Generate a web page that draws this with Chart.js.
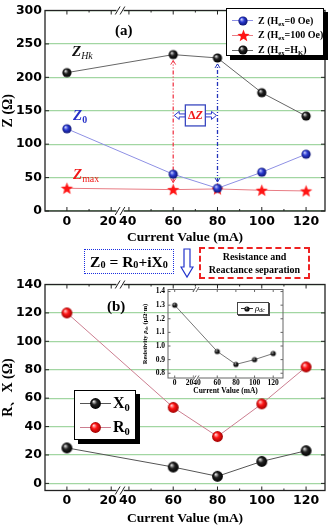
<!DOCTYPE html>
<html>
<head>
<meta charset="utf-8">
<script src="https://cdn.jsdelivr.net/npm/chart.js@4"></script>
<style>
  body { margin: 0; background: #fff; }
  #wrap { position: relative; width: 331px; height: 527px; overflow: hidden; background: #fff; font-family: 'Liberation Serif', serif; }
  canvas { position: absolute; }
  #top { left: 0px; top: 0px; }
  #bot { left: 0px; top: 274px; }
  #ins { left: 140px; top: 282px; }
  .t { position: absolute; white-space: nowrap; font-weight: bold; line-height: 1; }
  .t sub, .lrow sub, .box sub { font-size: 0.66em; position: relative; top: 0.32em; vertical-align: baseline; line-height: 0; }
  .legend { position: absolute; box-sizing: border-box; border: 1px solid #000; background: #fff; }
  .lrow { position: absolute; left: 0; height: 0; }
  .lrow i { position: absolute; top: -0.5px; height: 1px; }
  .lrow img { position: absolute; }
  .lrow span { position: absolute; top: 0; transform: translateY(-55%); white-space: nowrap; font-weight: bold; line-height: 1; }
  .box { position: absolute; box-sizing: border-box; display: flex; align-items: center; justify-content: center; text-align: center; font-weight: bold; }
</style>
</head>
<body>
<div id="wrap">
  <canvas id="top" width="331" height="246"></canvas>
  <canvas id="bot" width="331" height="253"></canvas>
  <canvas id="ins" width="150" height="116"></canvas>

  <div class="t" style="left:115px;top:23px;font-size:15px">(a)</div>
  <div class="t" style="left:107px;top:299px;font-size:15px">(b)</div>
  <div class="t" style="left:72px;top:44px;font-size:15px;font-style:italic;color:#111">Z<sub style="font-weight:normal">Hk</sub></div>
  <div class="t" style="left:73px;top:108px;font-size:15px;font-style:italic;color:#2630c8">Z<sub style="font-style:normal">0</sub></div>
  <div class="t" style="left:73px;top:167px;font-size:15px;font-style:italic;color:#f01818">Z<sub style="font-style:normal;font-weight:normal">max</sub></div>

  <div class="box" style="left:84px;top:249px;width:90px;height:25px;border:1.5px dotted #1a2ee0;font-size:15.5px">Z<sub>0</sub>&nbsp;=&nbsp;R<sub>0</sub>+iX<sub>0</sub></div>
  <svg style="position:absolute;left:180px;top:248px" width="14" height="31">
    <polygon points="4,1 10,1 10,19 13,19 7,29 1,19 4,19" fill="#fff" stroke="#2233cc" stroke-width="1.2"/>
  </svg>
  <div class="box" style="left:199px;top:247px;width:111px;height:32px;border:2px dashed #ee2222;font-size:10px;line-height:13px">Resistance and<br>Reactance separation</div>

  <div class="t" style="left:145px;top:334px;font-size:6.5px;transform:translate(-50%,-50%) rotate(-90deg)">Resistivity <i>&rho;</i><sub>dc</sub> (&mu;&Omega;&middot;m)</div>

  <div id="legTop" class="legend" style="left:226px;top:8px;width:98px;height:48px;box-shadow:4px 4px 0 #000"></div>
  <div id="legBot" class="legend" style="left:74px;top:390px;width:62px;height:50px;box-shadow:4px 4px 0 #000"></div>
  <div id="legIns" class="legend" style="left:237px;top:302px;width:32px;height:13px;border-color:#444;box-shadow:1px 1px 0 #444"></div>
</div>

<script>
// measured data (current in mA)
const currents = [0, 60, 80, 100, 120];
const zHk  = [207, 234, 229, 177, 142];
const z0   = [123, 55, 34, 58, 85];
const zMax = [34, 32, 33, 31, 30];
const r0 = [120, 53.5, 33, 56, 82];
const x0 = [25, 11.5, 5, 15.5, 23];
const rhoDc = [1.30, 0.96, 0.865, 0.90, 0.945];

// ticks (the 20 / 40 labels sit either side of the axis break)
const currentTicks = [0, 20, 40, 60, 80, 100, 120];
const currentLabels = ['0', '20\u2002', '40\u2009', '60', '80', '100', '120'];
const currentMinor = [10, 50, 70, 90, 110];
const zTicks = [0, 25, 50, 75, 100, 125, 150, 175, 200, 225, 250, 275, 300];
const rxTicks = [0, 10, 20, 30, 40, 50, 60, 70, 80, 90, 100, 110, 120, 130, 140];
const insetCurrentTicks = [0, 20, 60, 80, 100, 120];
const insetCurrentLabels = ['0', '2040', '60', '80', '100', '120'];
const rhoTicks = [0.8, 0.9, 1.0, 1.1, 1.2, 1.3, 1.4];

// broken x axis: everything from 40 mA on is pulled left
const squeeze = gap => v => (v >= 40 ? v - gap : v);
const toMain = squeeze(12);
const toInset = squeeze(14.4);

const SERIF = "'Liberation Serif', serif";
const SANS = "'DejaVu Sans', sans-serif";
const GREEN = '#a2d6a2';
const DOTS = '#8a9cc4';

function ball(r, light, mid, dark) {
  const c = document.createElement('canvas');
  const s = Math.ceil(2 * r + 2);
  c.width = c.height = s;
  const g = c.getContext('2d');
  const grad = g.createRadialGradient(s / 2 - r * 0.35, s / 2 - r * 0.4, r * 0.05, s / 2, s / 2, r);
  grad.addColorStop(0, light);
  grad.addColorStop(0.45, mid);
  grad.addColorStop(1, dark);
  g.fillStyle = grad;
  g.beginPath();
  g.arc(s / 2, s / 2, r, 0, Math.PI * 2);
  g.fill();
  return c;
}

function star(R, color) {
  const c = document.createElement('canvas');
  const s = Math.ceil(2 * R + 2);
  c.width = c.height = s;
  const g = c.getContext('2d');
  g.beginPath();
  for (let i = 0; i < 10; i++) {
    const rr = i % 2 ? R * 0.42 : R;
    const a = -Math.PI / 2 + i * Math.PI / 5;
    g.lineTo(s / 2 + rr * Math.cos(a), s / 2 + 0.5 + rr * Math.sin(a));
  }
  g.closePath();
  g.fillStyle = color;
  g.fill();
  return c;
}

const blackBall = ball(4.6, '#e8e8e8', '#222', '#000');
const blueBall = ball(4.6, '#d0d6ff', '#2c3cd4', '#0b1270');
const redStar = star(6.5, '#ff1414');
const blackBallB = ball(5.4, '#e8e8e8', '#222', '#000');
const redBallB = ball(5.4, '#ffd4d4', '#ff1515', '#a00000');
const blackBallS = ball(2.6, '#cccccc', '#222', '#000');

function series(xs, vals, map, lineColor, sprite) {
  return {
    data: xs.map((c, i) => ({ x: map(c), y: vals[i] })),
    borderColor: lineColor,
    borderWidth: 1,
    pointStyle: sprite,
    pointRadius: 5,
    fill: false,
    tension: 0
  };
}

function xAxis(min, max, realTicks, labels, map, font, pad, height, title, titleSize, titleBottom) {
  return {
    type: 'linear', min, max,
    afterBuildTicks: s => { s.ticks = realTicks.map(v => ({ value: map(v) })); },
    afterFit: s => { s.height = height; },
    grid: { display: false, drawTicks: false },
    border: { display: false },
    ticks: {
      autoSkip: false, maxRotation: 0, minRotation: 0, padding: pad, color: '#000', font,
      callback: (v, i) => labels[i]
    },
    title: {
      display: !!title, text: title, color: '#000',
      font: { family: SERIF, size: titleSize, weight: 'bold' },
      padding: { top: 0, bottom: titleBottom }
    }
  };
}

function yAxis(min, max, tickList, major, width, title, gridOn, font, fmt) {
  return {
    min, max,
    afterBuildTicks: s => { s.ticks = tickList.map(v => ({ value: v })); },
    afterFit: s => { s.width = width; },
    grid: {
      display: gridOn, drawTicks: false,
      color: c => (c.tick && major(c.tick.value) ? GREEN : DOTS),
      lineWidth: c => (c.tick && major(c.tick.value) ? 1.3 : 1)
    },
    border: { display: false, dash: c => (c.tick && !major(c.tick.value) ? [1, 2] : []) },
    ticks: { padding: 3, color: '#000', font, callback: v => (major(v) ? fmt(v) : '') },
    title: {
      display: !!title, text: title, color: '#000',
      font: { family: SERIF, size: 14, weight: 'bold' },
      padding: { top: 0, bottom: 0 }
    }
  };
}

function framePlugin(o) {
  return {
    id: 'frame',
    afterDraw(chart) {
      const { ctx, chartArea: a, scales: { x, y } } = chart;
      ctx.save();
      ctx.strokeStyle = o.color;
      ctx.lineWidth = o.width;
      ctx.strokeRect(a.left, a.top, a.right - a.left, a.bottom - a.top);
      ctx.lineWidth = 1;
      ctx.beginPath();
      const xt = (px, len) => {
        ctx.moveTo(px, a.bottom); ctx.lineTo(px, a.bottom - len);
        ctx.moveTo(px, a.top); ctx.lineTo(px, a.top + len);
      };
      x.ticks.forEach(t => xt(x.getPixelForValue(t.value), o.tick));
      (o.minorX || []).forEach(v => xt(x.getPixelForValue(o.map(v)), o.tick / 2));
      y.ticks.forEach(t => {
        const py = y.getPixelForValue(t.value);
        const len = o.major(t.value) ? o.tick : o.tick / 2;
        ctx.moveTo(a.left, py); ctx.lineTo(a.left + len, py);
        ctx.moveTo(a.right, py); ctx.lineTo(a.right - len, py);
      });
      ctx.stroke();
      if (o.breakAt != null) {
        const px = x.getPixelForValue(o.breakAt);
        const h = o.breakSize;
        [a.top, a.bottom].forEach(yy => {
          ctx.fillStyle = '#fff';
          ctx.fillRect(px - h * 0.45, yy - 2, h * 0.9, 4);
          ctx.beginPath();
          [-h * 0.3, h * 0.3].forEach(d => {
            ctx.moveTo(px + d - h * 0.3, yy + h * 0.5);
            ctx.lineTo(px + d + h * 0.3, yy - h * 0.5);
          });
          ctx.strokeStyle = o.color;
          ctx.stroke();
        });
      }
      ctx.restore();
    }
  };
}

function vArrow(ctx, x, yBot, yTop, color) {
  ctx.save();
  ctx.strokeStyle = color;
  ctx.lineWidth = 1.3;
  ctx.setLineDash([4, 2, 1, 2, 1, 2]);
  ctx.beginPath();
  ctx.moveTo(x, yBot);
  ctx.lineTo(x, yTop);
  ctx.stroke();
  ctx.setLineDash([]);
  ctx.lineWidth = 1;
  ctx.beginPath();
  ctx.moveTo(x - 2.5, yTop + 4); ctx.lineTo(x, yTop); ctx.lineTo(x + 2.5, yTop + 4);
  ctx.moveTo(x - 2.5, yBot - 4); ctx.lineTo(x, yBot); ctx.lineTo(x + 2.5, yBot - 4);
  ctx.stroke();
  ctx.restore();
}

function hollowArrow(ctx, from, tip, cy) {
  const s = Math.sign(tip - from);
  const pts = [[from, cy - 1.5], [tip - s * 5, cy - 1.5], [tip - s * 5, cy - 4], [tip, cy],
               [tip - s * 5, cy + 4], [tip - s * 5, cy + 1.5], [from, cy + 1.5]];
  ctx.beginPath();
  pts.forEach(([px, py], i) => (i ? ctx.lineTo(px, py) : ctx.moveTo(px, py)));
  ctx.closePath();
  ctx.fillStyle = '#fff';
  ctx.fill();
  ctx.strokeStyle = '#2a3acc';
  ctx.lineWidth = 1;
  ctx.stroke();
}

const deltaZPlugin = {
  id: 'deltaZ',
  beforeDatasetsDraw(chart) {
    const { ctx, scales: { x, y } } = chart;
    const xa = x.getPixelForValue(toMain(currents[1]));
    const xb = x.getPixelForValue(toMain(currents[2]));
    vArrow(ctx, xa, y.getPixelForValue(zMax[1]) - 7, y.getPixelForValue(zHk[1]) + 6, '#f03a4a');
    vArrow(ctx, xb, y.getPixelForValue(zMax[2]) - 7, y.getPixelForValue(zHk[2]) + 6, '#2233bb');

    const cx = (xa + xb) / 2;
    const cy = y.getPixelForValue(143);
    ctx.save();
    hollowArrow(ctx, cx - 10, xa + 1, cy);
    hollowArrow(ctx, cx + 10, xb - 1, cy);
    ctx.fillStyle = '#fff';
    ctx.fillRect(cx - 10, cy - 10.5, 20, 21);
    ctx.strokeStyle = '#3a48c0';
    ctx.lineWidth = 1.3;
    ctx.strokeRect(cx - 10, cy - 10.5, 20, 21);
    ctx.fillStyle = '#f01818';
    ctx.textBaseline = 'middle';
    ctx.font = `bold 12px ${SERIF}`;
    const wd = ctx.measureText('\u0394').width;
    ctx.font = `italic bold 12px ${SERIF}`;
    const wz = ctx.measureText('Z').width;
    const x1 = cx - (wd + wz) / 2;
    ctx.font = `bold 12px ${SERIF}`;
    ctx.fillText('\u0394', x1, cy + 0.5);
    ctx.font = `italic bold 12px ${SERIF}`;
    ctx.fillText('Z', x1 + wd, cy + 0.5);
    ctx.restore();
  }
};

const baseOpts = {
  responsive: false,
  animation: false,
  events: [],
  plugins: { legend: { display: false }, tooltip: { enabled: false } }
};

const major50 = v => v % 50 === 0;
const major20 = v => v % 20 === 0;
const tickFont = { family: SANS, size: 12.5, weight: 'bold' };
const insetFont = { family: SERIF, size: 7.5, weight: 'bold' };

new Chart(document.getElementById('top'), {
  type: 'line',
  data: {
    datasets: [
      series(currents, zHk, toMain, '#666', blackBall),
      series(currents, z0, toMain, '#8e90e4', blueBall),
      series(currents, zMax, toMain, '#e87c84', redStar)
    ]
  },
  options: {
    ...baseOpts,
    layout: { padding: { top: 8, right: 5, left: 0, bottom: 0 } },
    scales: {
      x: xAxis(-9.9, 116.55, currentTicks, currentLabels, toMain, tickFont, 3, 35, 'Current Value (mA)', 13.5, 0),
      y: yAxis(0, 300, zTicks, major50, 45, 'Z (\u03A9)', true, tickFont, v => v)
    }
  },
  plugins: [framePlugin({ color: '#222', width: 1.3, tick: 4, map: toMain, minorX: currentMinor, major: major50, breakAt: 24, breakSize: 8 }), deltaZPlugin]
});

new Chart(document.getElementById('bot'), {
  type: 'line',
  data: {
    datasets: [
      series(currents, x0, toMain, '#555', blackBallB),
      series(currents, r0, toMain, '#cc7e90', redBallB)
    ]
  },
  options: {
    ...baseOpts,
    layout: { padding: { top: 8.5, right: 5, left: 0, bottom: 0 } },
    scales: {
      x: xAxis(-9.9, 116.55, currentTicks, currentLabels, toMain, tickFont, 3, 36.5, 'Current Value (mA)', 13.5, 0),
      y: yAxis(-5, 140, rxTicks, major20, 45, 'R\u3001X (\u03A9)', true, tickFont, v => v)
    }
  },
  plugins: [framePlugin({ color: '#222', width: 1.3, tick: 4, map: toMain, minorX: currentMinor, major: major20, breakAt: 24, breakSize: 8 })]
});

new Chart(document.getElementById('ins'), {
  type: 'line',
  data: {
    datasets: [series(currents, rhoDc, toInset, '#777', blackBallS)]
  },
  options: {
    ...baseOpts,
    layout: { padding: { top: 7, right: 7, left: 0, bottom: 0 } },
    scales: {
      x: xAxis(-7.2, 116.1, insetCurrentTicks, insetCurrentLabels, toInset, insetFont, 1, 20, 'Current Value (mA)', 7.5, 2),
      y: yAxis(0.765, 1.415, rhoTicks, () => true, 28, '', false, insetFont, v => v.toFixed(1))
    }
  },
  plugins: [framePlugin({ color: '#666', width: 1, tick: 2.5, map: toInset, major: () => true, breakAt: 22.8, breakSize: 5 })]
});

// legends
function legendRow(box, cy, lineColor, sprite, html, o) {
  const row = document.createElement('div');
  row.className = 'lrow';
  row.style.top = cy + 'px';
  row.innerHTML =
    `<i style="left:${o.l0}px;width:${o.lw}px;background:${lineColor}"></i>` +
    `<img src="${sprite.toDataURL()}" style="left:${o.mx - sprite.width / 2}px;top:${-sprite.height / 2}px">` +
    `<span style="left:${o.tx}px;font-size:${o.fs}px;${o.style || ''}">${html}</span>`;
  box.appendChild(row);
}

const legTop = document.getElementById('legTop');
const lt = { l0: 5, lw: 21, mx: 16, tx: 31, fs: 10 };
legendRow(legTop, 11.5, '#8e90e4', blueBall, 'Z (H<sub>ex</sub>=0 Oe)', lt);
legendRow(legTop, 26, '#e87c84', redStar, 'Z (H<sub>ex</sub>=100 Oe)', lt);
legendRow(legTop, 41, '#666', blackBall, 'Z (H<sub>ex</sub>=H<sub>K</sub>)', lt);

const legBot = document.getElementById('legBot');
const lb = { l0: 5, lw: 31, mx: 20, tx: 38, fs: 16 };
legendRow(legBot, 12.5, '#555', blackBallB, 'X<sub>0</sub>', lb);
legendRow(legBot, 36.5, '#cc7e90', redBallB, 'R<sub>0</sub>', lb);

const legIns = document.getElementById('legIns');
legendRow(legIns, 5.5, '#333', blackBallS, '&rho;<sub>dc</sub>', { l0: 3, lw: 12, mx: 9, tx: 17, fs: 9, style: 'font-style:italic;font-weight:normal' });
</script>
</body>
</html>
